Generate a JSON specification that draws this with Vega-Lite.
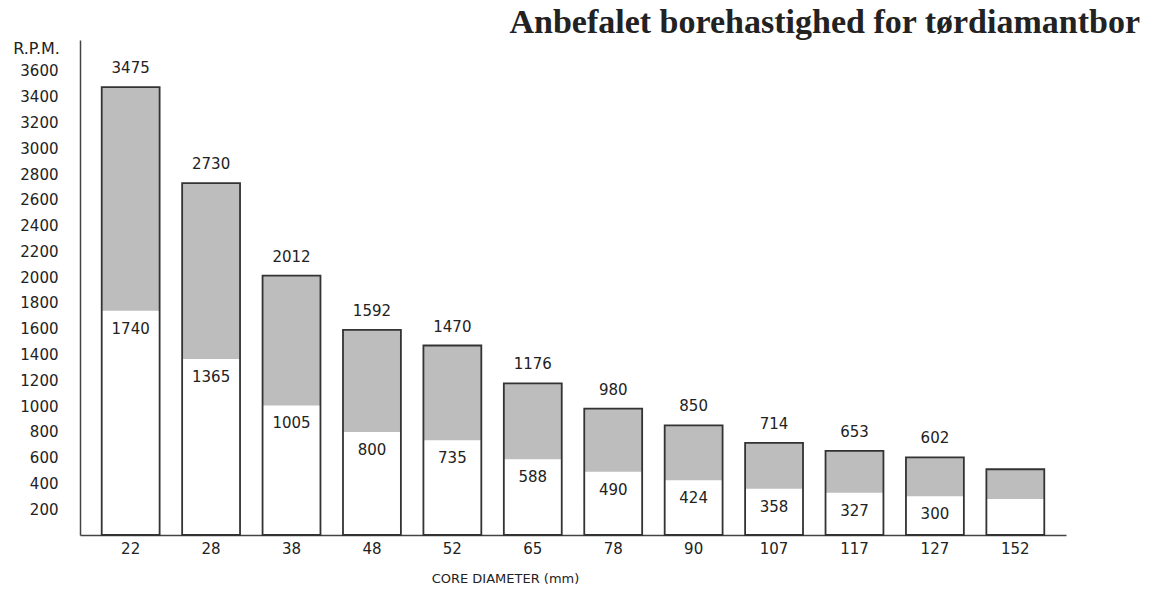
{
  "$schema": "https://vega.github.io/schema/vega-lite/v6.json",
  "width": 986,
  "height": 495,
  "autosize": {"type": "none"},
  "padding": {"left": 80, "top": 40, "right": 84, "bottom": 63},
  "background": "white",
  "title": {
    "text": "Anbefalet borehastighed for tørdiamantbor",
    "anchor": "end",
    "font": "Liberation Serif",
    "fontSize": 34,
    "fontWeight": "bold",
    "color": "#222222",
    "dx": 74,
    "dy": 33,
    "offset": 6,
    "baseline": "alphabetic"
  },
  "config": {
    "view": {"stroke": null},
    "axis": {
      "grid": false,
      "ticks": false,
      "labelFont": "DejaVu Sans",
      "labelFontSize": 15,
      "labelColor": "#222222",
      "domainColor": "#444444",
      "domainWidth": 1.5,
      "titleFont": "DejaVu Sans",
      "titleFontWeight": "normal",
      "titleColor": "#222222"
    }
  },
  "data": {
    "values": [
      {"d": "22", "min": 1740, "max": 3475, "labelled": true},
      {"d": "28", "min": 1365, "max": 2730, "labelled": true},
      {"d": "38", "min": 1005, "max": 2012, "labelled": true},
      {"d": "48", "min": 800, "max": 1592, "labelled": true},
      {"d": "52", "min": 735, "max": 1470, "labelled": true},
      {"d": "65", "min": 588, "max": 1176, "labelled": true},
      {"d": "78", "min": 490, "max": 980, "labelled": true},
      {"d": "90", "min": 424, "max": 850, "labelled": true},
      {"d": "107", "min": 358, "max": 714, "labelled": true},
      {"d": "117", "min": 327, "max": 653, "labelled": true},
      {"d": "127", "min": 300, "max": 602, "labelled": true},
      {"d": "152", "min": 280, "max": 510, "labelled": false}
    ]
  },
  "encoding": {
    "x": {
      "field": "d",
      "type": "ordinal",
      "sort": null,
      "scale": {"paddingInner": 0.28, "paddingOuter": 0.27},
      "axis": {
        "title": "CORE DIAMETER (mm)",
        "labelAngle": 0,
        "labelPadding": 6,
        "labelFontSize": 15,
        "labelOverlap": false,
        "titleFontSize": 13,
        "titleX": 425,
        "titleY": 43,
        "titleBaseline": "middle",
        "titleAlign": "center"
      }
    }
  },
  "layer": [
    {
      "mark": {"type": "bar", "fill": "#bdbdbd", "stroke": null},
      "encoding": {
        "y": {
          "field": "max",
          "type": "quantitative",
          "scale": {"domain": [0, 3840], "nice": false},
          "axis": {
            "title": "R.P.M.",
            "values": [200, 400, 600, 800, 1000, 1200, 1400, 1600, 1800, 2000, 2200, 2400, 2600, 2800, 3000, 3200, 3400, 3600],
            "tickCount": 40,
            "format": "d",
            "labelOverlap": false,
            "labelFontSize": 15,
            "labelPadding": 22,
            "titleFontSize": 16,
            "titleAngle": 0,
            "titleX": -44,
            "titleY": 8,
            "titleAlign": "center",
            "titleBaseline": "middle"
          }
        }
      }
    },
    {
      "mark": {"type": "bar", "fill": "white", "stroke": null},
      "encoding": {"y": {"field": "min", "type": "quantitative"}}
    },
    {
      "mark": {"type": "bar", "fillOpacity": 0, "stroke": "#333333", "strokeWidth": 1.8},
      "encoding": {"y": {"field": "max", "type": "quantitative"}}
    },
    {
      "transform": [{"filter": "datum.labelled"}],
      "mark": {"type": "text", "baseline": "bottom", "dy": -11, "font": "DejaVu Sans", "fontSize": 15, "color": "#222222"},
      "encoding": {
        "y": {"field": "max", "type": "quantitative"},
        "text": {"field": "max", "type": "quantitative", "format": "d"}
      }
    },
    {
      "transform": [{"filter": "datum.labelled"}],
      "mark": {"type": "text", "baseline": "top", "dy": 11, "font": "DejaVu Sans", "fontSize": 15, "color": "#222222"},
      "encoding": {
        "y": {"field": "min", "type": "quantitative"},
        "text": {"field": "min", "type": "quantitative", "format": "d"}
      }
    }
  ]
}
